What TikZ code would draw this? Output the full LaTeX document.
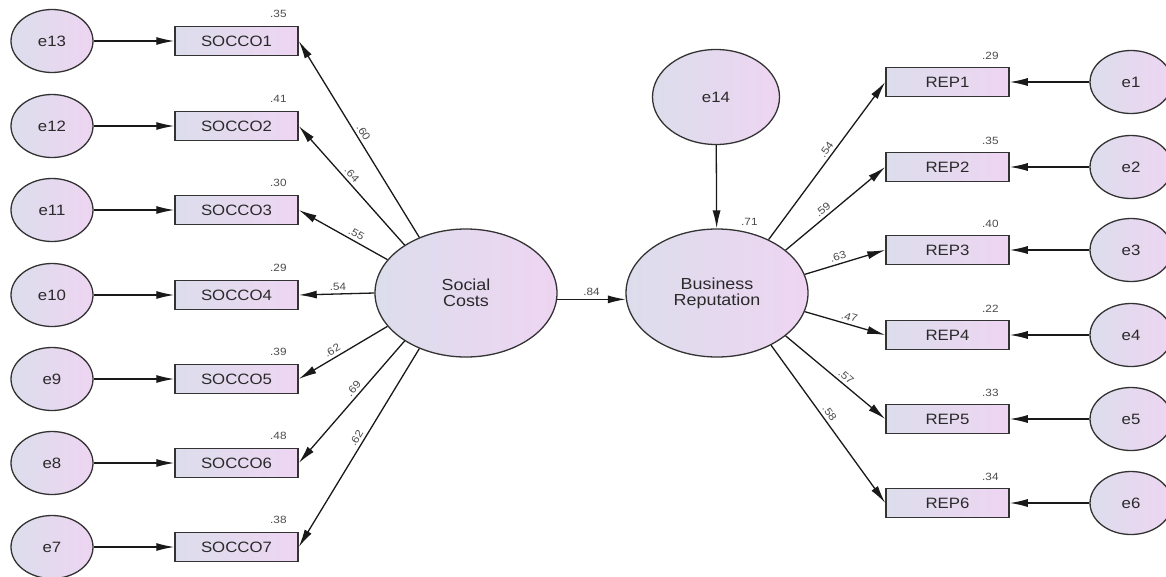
\documentclass[tikz,border=0pt]{standalone}
\usepackage{fontspec}
\setmainfont{Liberation Sans}
\newfontfamily\amos[FakeStretch=1.12]{Liberation Sans}
\usetikzlibrary{arrows.meta,shapes.geometric}
\definecolor{cblue}{HTML}{DCDDEC}
\definecolor{cpink}{HTML}{EED5F2}
\definecolor{txt}{HTML}{2A2A2A}
\begin{document}
\begin{tikzpicture}[x=1pt,y=-1pt,
  obs/.style={draw=black!80, line width=1.5pt, rectangle, minimum width=123pt, minimum height=29pt, inner sep=0pt, left color=cblue, right color=cpink, font=\amos\fontsize{15}{15}\selectfont, text=txt},
  err/.style={ellipse, draw=black!80, line width=1.3pt, minimum width=82pt, minimum height=63pt, inner sep=0pt, left color=cblue, right color=cpink, font=\amos\fontsize{15}{15}\selectfont, text=txt},
  lat/.style={err, minimum width=182pt, minimum height=128pt, align=center, font=\amos\fontsize{16}{16}\selectfont},
  arr/.style={-{Latex[length=18pt,width=8pt]}, line width=1.3pt, black!90},
  lab/.style={font=\amos\fontsize{10.5}{10.5}\selectfont, text=black!70, inner sep=1pt},
  ld/.style={lab, sloped, above=2pt},
]
\fill[white] (0,0) rectangle (1166,576);
\useasboundingbox (0,0) rectangle (1166,576);

% latent variables
\node[lat] (SC) at (466,293) {Social\\Costs};
\node[lat] (BR) at (717,293) {Business\\Reputation};
\node[err, minimum width=127pt, minimum height=95pt] (e14) at (716,97) {e14};

% left side
\foreach \i/\e/\y/\r in {1/13/41/.35, 2/12/126/.41, 3/11/210/.30, 4/10/295/.29, 5/9/379/.39, 6/8/463/.48, 7/7/547/.38}{
  \node[err] (e\e) at (52,\y) {e\e};
  \node[obs] (S\i) at (236.5,\y) {SOCCO\i};
  \node[lab, anchor=base east] (q\i) at ([shift={(-11,-8)}]S\i.north east) {\r};
  \draw[arr] (e\e) -- (S\i);
}

% right side
\foreach \i/\y/\r in {1/82/.29, 2/167/.35, 3/250/.40, 4/335/.22, 5/419/.33, 6/503/.34}{
  \node[err] (e\i) at (1131,\y) {e\i};
  \node[obs] (R\i) at (947.5,\y) {REP\i};
  \node[lab, anchor=base east] (p\i) at ([shift={(-10,-7)}]R\i.north east) {\r};
  \draw[arr] (e\i) -- (R\i);
}

% loadings Social Costs
\draw[arr] (SC.130) -- node[ld,pos=.515] (l1) {.60} (S1.east);
\draw[arr] (SC.142) -- node[ld,pos=.55] (l2) {.64} (S2.east);
\draw[arr] (SC.157) -- node[ld,pos=.39] (l3) {.55} (S3.east);
\draw[arr] (SC.180) -- node[ld,pos=.48] (l4) {.54} (S4.east);
\draw[arr] (SC.203) -- node[ld,pos=.58] (l5) {.62} (S5.east);
\draw[arr] (SC.218) -- node[ld,pos=.43] (l6) {.69} (S6.east);
\draw[arr] (SC.230) -- node[ld,pos=.47] (l7) {.62} (S7.east);

% loadings Business Reputation
\draw[arr] (BR.46) -- node[ld,pos=.545] (m1) {.54} (R1.west);
\draw[arr] (BR.32) -- node[ld,pos=.42] (m2) {.59} (R2.west);
\draw[arr] (BR.12) -- node[ld,pos=.44] (m3) {.63} (R3.west);
\draw[arr] (BR.-12) -- node[ld,pos=.53] (m4) {.47} (R4.west);
\draw[arr] (BR.-32) -- node[ld,pos=.56] (m5) {.57} (R5.west);
\draw[arr] (BR.-44) -- node[ld,pos=.46] (m6) {.58} (R6.west);

% structural path
\draw[arr] (SC.-4) -- node[lab,above=2pt,pos=.5] (b1) {.84} (BR.184);
\draw[arr] (e14) -- (BR);
\node[lab, anchor=base west] (r14) at ([shift={(23,-3)}]BR.north) {.71};
\end{tikzpicture}
\end{document}
